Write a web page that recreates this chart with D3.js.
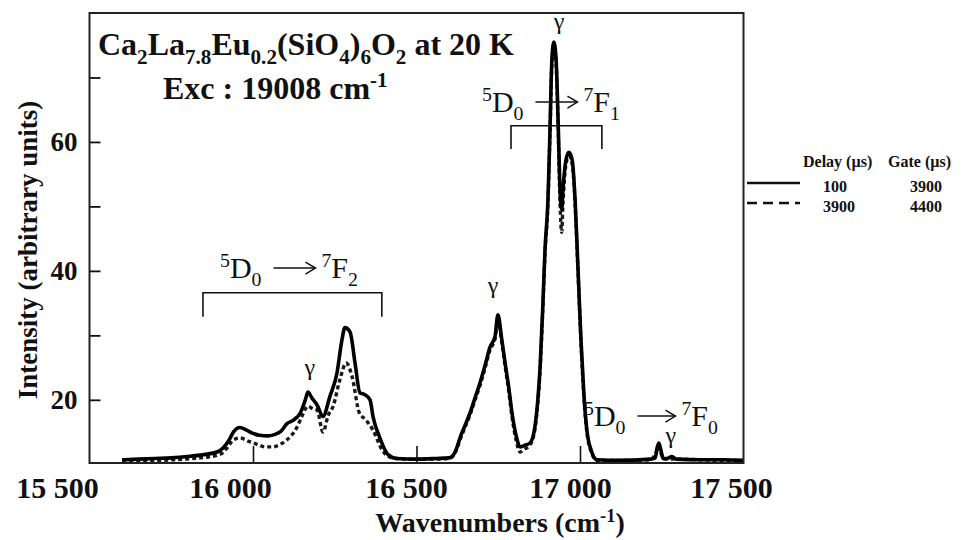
<!DOCTYPE html>
<html>
<head>
<meta charset="utf-8">
<script src="https://cdn.jsdelivr.net/npm/d3@7"></script>
<style>
  body { margin: 0; background: #fff; }
  svg text { font-family: "Liberation Serif", "Times New Roman", serif; fill: #111; }
</style>
</head>
<body>
<svg id="chart" width="974" height="540"></svg>
<script>
/* spectrum of Ca2La7.8Eu0.2(SiO4)6O2, two delays */

// delay 100 us (solid)
var solidWn = [15600, 15650, 15700, 15750, 15800, 15850, 15890, 15910, 15925, 15940, 15960, 15980,
  16000, 16020, 16045, 16065, 16085, 16104, 16125, 16145, 16160, 16168, 16180, 16196, 16214, 16235,
  16257, 16272, 16281, 16297, 16312, 16327, 16342, 16358, 16367, 16388, 16413, 16440, 16500, 16560,
  16600, 16612, 16622, 16633, 16649, 16664, 16679, 16694, 16710, 16725, 16740, 16749, 16761, 16771, 16783,
  16792, 16804, 16817, 16829, 16847, 16862, 16871, 16878, 16887, 16893, 16902, 16908, 16914, 16920,
  16927, 16933, 16939, 16944, 16948, 16957, 16966, 16976, 16985, 16994, 17003, 17012, 17021, 17034,
  17052, 17120, 17215, 17230, 17236, 17241, 17247, 17254, 17266, 17281, 17295, 17370, 17440, 17498];
var solidInt = [10.7, 10.8, 10.9, 11.0, 11.2, 11.5, 11.9, 12.6, 13.6, 15.0, 15.7, 15.3,
  14.8, 14.5, 14.4, 14.6, 15.1, 16.3, 16.9, 18.0, 20.0, 21.2, 20.3, 19.2, 17.4, 20.5,
  24.2, 29.3, 31.2, 30.5, 25.7, 21.1, 20.8, 20.0, 17.4, 14.1, 11.5, 10.9, 10.8, 10.9,
  11.0, 11.4, 12.4, 14.1, 16.1, 18.0, 20.3, 22.6, 25.4, 28.2, 29.8, 33.2, 29.3, 25.7, 21.6,
  18.0, 14.6, 12.7, 12.9, 13.3, 15.8, 20.0, 25.1, 35.5, 43.3, 51.0, 61.4, 72.7, 75.5,
  72.7, 63.4, 52.6, 49.5, 52.6, 57.2, 58.4, 57.2, 51.0, 40.2, 29.3, 20.8, 15.3, 12.2,
  10.7, 10.6, 10.8, 11.0, 12.6, 13.3, 12.3, 10.9, 10.9, 11.2, 10.8, 10.7, 10.7, 10.6];

// delay 3900 us (dashed)
var dashWn = [15600, 15690, 15790, 15840, 15890, 15910, 15920, 15940, 15960, 15985, 16012, 16037,
  16061, 16083, 16104, 16135, 16150, 16168, 16183, 16196, 16214, 16230, 16245, 16265, 16285, 16303,
  16325, 16345, 16367, 16395, 16425, 16470, 16560, 16600, 16612, 16622, 16633, 16649, 16664, 16679, 16694,
  16710, 16725, 16740, 16749, 16761, 16771, 16783, 16792, 16804, 16817, 16829, 16847, 16862, 16871,
  16878, 16887, 16893, 16902, 16908, 16914, 16920, 16927, 16933, 16939, 16944, 16948, 16957, 16966,
  16976, 16985, 16994, 17003, 17012, 17021, 17034, 17052, 17120, 17215, 17236, 17241, 17247, 17260,
  17300, 17370, 17440, 17498];
var dashInt = [10.6, 10.6, 10.8, 11.0, 11.4, 11.9, 12.5, 13.8, 14.1, 13.6, 13.1, 12.7,
  12.7, 13.1, 13.8, 15.8, 17.5, 19.0, 18.6, 18.4, 15.0, 17.6, 19.0, 23.0, 25.7, 23.6,
  18.0, 16.9, 15.3, 12.2, 11.0, 10.8, 10.8, 10.9, 11.3, 12.2, 13.8, 15.8, 17.7, 20.0, 22.2,
  25.0, 27.8, 29.4, 32.4, 28.8, 25.2, 21.0, 17.4, 13.9, 11.9, 12.3, 13.0, 15.4, 19.5,
  24.6, 35.0, 42.8, 50.5, 61.0, 72.2, 75.0, 72.2, 62.5, 50.5, 46.0, 50.5, 56.5, 57.8,
  56.6, 50.5, 39.8, 28.8, 20.4, 15.0, 12.0, 10.6, 10.6, 10.7, 12.2, 12.8, 11.8, 10.8,
  10.8, 10.7, 10.6, 10.6];

var xTickValues = [16000, 16500, 17000];
var xLabelValues = [15500, 16000, 16500, 17000, 17500];
var yTickValues = [20, 30, 40, 50, 60, 70];
var yLabelValues = [20, 40, 60];

var legendRows = [
  { dash: null, delay: "100", gate: "3900" },
  { dash: "10,6", delay: "3900", gate: "4400" }
];

// gamma marks and transition brackets, in data units
var gammaMarks = [[16174, 23.9], [16734, 36.6], [16936, 77.5], [17278, 13.3]];
var brackets = [
  { from: 15847, to: 16394, top: 36.6, foot: 32.9 },
  { from: 16789, to: 17067, top: 62.5, foot: 58.9 }
];

var svg = d3.select("#chart");
var plot = { left: 89.5, right: 743.5, top: 13, bottom: 463 };

var x = d3.scaleLinear().domain([15500, 17500]).range([plot.left, plot.right]);
// the printed tick labels sit a little left of their ticks in the original
var xLab = d3.scaleLinear().domain(xLabelValues).range([57, 230, 406, 570, 731]);
var y = d3.scaleLinear().domain([10.2, 80]).range([plot.bottom, plot.top]);

var fmt = function (d) { return d3.format(",")(d).replace(",", " "); };

// little helper for sub / superscripts
function richText(g, px, py, parts, size, weight, anchor) {
  var t = g.append("text").attr("x", px).attr("y", py)
    .attr("text-anchor", anchor || "start")
    .style("font-size", size + "px").style("font-weight", weight || "normal");
  var shift = 0;
  parts.forEach(function (p) {
    var mode = p[1] || "n";
    var target = mode === "sub" ? size * 0.28 : mode === "sup" ? -size * 0.36 : 0;
    t.append("tspan").attr("dy", target - shift)
      .style("font-size", (mode === "n" ? size : size * 0.66) + "px")
      .text(p[0]);
    shift = target;
  });
  return t;
}

function transition(px, py, lower, size, arrowLen) {
  var g = svg.append("g");
  var a = richText(g, px, py, [["5", "sup"], ["D"], ["0", "sub"]], size);
  var w = a.node().getComputedTextLength();
  var x1 = px + w + 12, x2 = x1 + arrowLen, ay = py - size * 0.33;
  g.append("line").attr("x1", x1).attr("x2", x2).attr("y1", ay).attr("y2", ay)
    .attr("stroke", "#111").attr("stroke-width", 1.5);
  g.append("path").attr("d", "M" + (x2 - 10) + "," + (ay - 6) + "L" + x2 + "," + ay + "L" + (x2 - 10) + "," + (ay + 6))
    .attr("fill", "none").attr("stroke", "#111").attr("stroke-width", 1.5);
  richText(g, x2 + 6, py, [["7", "sup"], ["F"], [lower, "sub"]], size);
}

// clip
svg.append("defs").append("clipPath").attr("id", "clip")
  .append("rect").attr("x", plot.left).attr("y", plot.top)
  .attr("width", plot.right - plot.left).attr("height", plot.bottom - plot.top);

// axes
var yAxis = d3.axisLeft(y).tickValues(yTickValues).tickSizeInner(-11).tickSizeOuter(0).tickPadding(12)
  .tickFormat(function (d) { return yLabelValues.indexOf(d) >= 0 ? d : ""; });
var gy = svg.append("g").attr("transform", "translate(" + plot.left + ",0)").call(yAxis);
gy.select(".domain").remove();
gy.selectAll(".tick line").attr("stroke", "#111").attr("stroke-width", 1.8);
gy.selectAll(".tick text").style("font-size", "27px").style("font-weight", "bold")
  .style("font-family", '"Liberation Serif", serif').attr("fill", "#111");

var xAxis = d3.axisBottom(x).tickValues(xTickValues).tickSizeInner(-17).tickSizeOuter(0).tickFormat("");
var gx = svg.append("g").attr("transform", "translate(0," + plot.bottom + ")").call(xAxis);
gx.select(".domain").remove();
gx.selectAll(".tick line").attr("stroke", "#111").attr("stroke-width", 1.6);

var xLabAxis = d3.axisBottom(xLab).tickValues(xLabelValues).tickSize(0).tickPadding(0).tickFormat(fmt);
var gxl = svg.append("g").attr("transform", "translate(0,498)").call(xLabAxis);
gxl.select(".domain").remove();
gxl.selectAll(".tick text").attr("dy", null).attr("y", 0).style("font-size", "30px").style("font-weight", "bold")
  .style("font-family", '"Liberation Serif", serif').attr("fill", "#111");

// curves
var line = d3.line().x(function (d) { return x(d[0]); }).y(function (d) { return y(d[1]); })
  .curve(d3.curveMonotoneX);
var solid = d3.zip(solidWn, solidInt);
var dashed = d3.zip(dashWn, dashInt);

var curves = svg.append("g").attr("clip-path", "url(#clip)");
curves.append("path").datum(dashed).attr("d", line)
  .attr("fill", "none").attr("stroke", "#1a1a1a").attr("stroke-width", 3.4)
  .attr("stroke-dasharray", "4,3");
curves.append("path").datum(solid).attr("d", line)
  .attr("fill", "none").attr("stroke", "#000").attr("stroke-width", 3.6).attr("stroke-linejoin", "round");

// frame
svg.append("rect").attr("x", plot.left).attr("y", plot.top)
  .attr("width", plot.right - plot.left).attr("height", plot.bottom - plot.top)
  .attr("fill", "none").attr("stroke", "#222").attr("stroke-width", 2);

// brackets
svg.selectAll(".bracket").data(brackets).enter().append("path").attr("class", "bracket")
  .attr("d", function (b) {
    return "M" + x(b.from) + "," + y(b.foot) + "V" + y(b.top) + "H" + x(b.to) + "V" + y(b.foot);
  })
  .attr("fill", "none").attr("stroke", "#111").attr("stroke-width", 1.6);

// gamma labels
svg.selectAll(".gamma").data(gammaMarks).enter().append("text").attr("class", "gamma")
  .attr("x", function (d) { return x(d[0]); }).attr("y", function (d) { return y(d[1]); })
  .attr("text-anchor", "middle").style("font-size", "24px").text("γ");

// transitions
transition(220, 278, "2", 30, 42);
transition(482, 112, "1", 30, 42);
transition(584, 426, "0", 30, 38);

// title
richText(svg, 98, 55, [["Ca"], ["2", "sub"], ["La"], ["7.8", "sub"], ["Eu"], ["0.2", "sub"], ["(SiO"], ["4", "sub"],
  [")"], ["6", "sub"], ["O"], ["2", "sub"], [" at 20 K"]], 32, "bold");
richText(svg, 163, 99, [["Exc : 19008 cm"], ["-1", "sup"]], 32, "bold");

// axis titles
svg.append("text").attr("transform", "translate(37,250) rotate(-90)")
  .attr("text-anchor", "middle").style("font-size", "27px").style("font-weight", "bold")
  .text("Intensity (arbitrary units)");
richText(svg, 500, 532, [["Wavenumbers (cm"], ["-1", "sup"], [")"]], 28, "bold", "middle");

// legend
var leg = svg.append("g");
leg.append("text").attr("x", 803).attr("y", 167).style("font-size", "16px").style("font-weight", "bold").text("Delay (µs)");
leg.append("text").attr("x", 888).attr("y", 167).style("font-size", "16px").style("font-weight", "bold").text("Gate (µs)");
var rows = leg.selectAll(".row").data(legendRows).enter().append("g").attr("class", "row")
  .attr("transform", function (d, i) { return "translate(0," + (183 + i * 20) + ")"; });
rows.append("line").attr("x1", 747).attr("x2", 800).attr("y1", 0).attr("y2", 0)
  .attr("stroke", "#111").attr("stroke-width", 2.6)
  .attr("stroke-dasharray", function (d) { return d.dash; });
rows.append("text").attr("x", 823).attr("y", 9).style("font-size", "16px").style("font-weight", "bold")
  .text(function (d) { return d.delay; });
rows.append("text").attr("x", 910).attr("y", 9).style("font-size", "16px").style("font-weight", "bold")
  .text(function (d) { return d.gate; });
</script>
</body>
</html>
